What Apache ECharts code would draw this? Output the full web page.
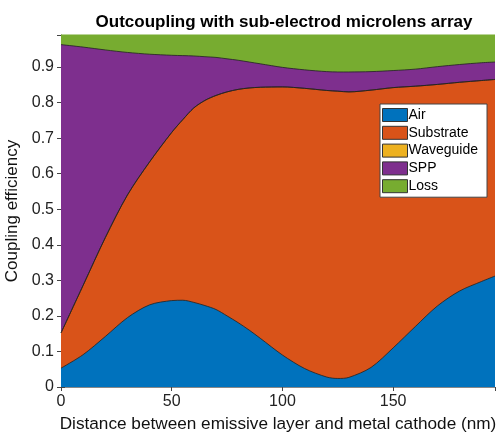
<!DOCTYPE html>
<html><head><meta charset="utf-8">
<script src="https://cdn.jsdelivr.net/npm/echarts@6/dist/echarts.min.js"></script>
<style>html,body{margin:0;padding:0;background:#fff}#c{width:504px;height:434px}</style>
</head><body><div id="c"></div>
<script>
const distance = [0,10,20,30,40,50,55,60,65,70,75,80,85,90,100,110,120,125,130,140,150,160,170,180,190,196];
const air       = [0.053,0.091,0.142,0.195,0.231,0.243,0.244,0.238,0.229,0.218,0.200,0.181,0.160,0.137,0.090,0.052,0.028,0.024,0.027,0.055,0.110,0.170,0.228,0.270,0.297,0.312];
const substrate = [0.099,0.195,0.278,0.345,0.402,0.473,0.508,0.547,0.577,0.602,0.630,0.656,0.681,0.706,0.754,0.788,0.806,0.808,0.803,0.780,0.732,0.676,0.623,0.587,0.565,0.553];
const waveguide = [0,0,0,0,0,0,0,0,0,0,0,0,0,0,0,0,0,0,0,0,0,0,0,0,0,0];
const spp       = [0.811,0.670,0.528,0.401,0.303,0.217,0.180,0.146,0.123,0.107,0.093,0.082,0.073,0.066,0.055,0.052,0.053,0.054,0.056,0.052,0.048,0.048,0.050,0.050,0.050,0.049];
const loss      = [0.037,0.044,0.052,0.059,0.064,0.067,0.068,0.069,0.071,0.073,0.077,0.081,0.086,0.091,0.101,0.108,0.113,0.114,0.114,0.113,0.110,0.106,0.099,0.093,0.088,0.086];
const names  = ['Air','Substrate','Waveguide','SPP','Loss'];
const colors = ['#0072BD','#D95319','#EDB120','#7E2F8E','#77AC30'];
const values = [air, substrate, waveguide, spp, loss];

// cumulative tops (stacked area)
const cum = [];
values.forEach((arr,i)=>{
  cum.push(arr.map((v,j)=> (i ? cum[i-1][j] : 0) + v));
});

const FONT = 'Liberation Sans, Arial, Helvetica, sans-serif';
const chart = echarts.init(document.getElementById('c'), null, {renderer:'canvas'});
// draw top layers first so lower layers paint over them
const series = names.map((n,i)=>({
  name:n, type:'line', smooth:0.3, symbol:'none', clip:true,
  data: distance.map((x,j)=>[x, +cum[i][j].toFixed(4)]),
  color: colors[i],
  lineStyle:{color:'#222', width:0.8},
  areaStyle:{color:colors[i], opacity:1, origin:'start'},
  itemStyle:{color:colors[i]}
})).reverse();
chart.setOption({
  animation:false,
  backgroundColor:'#fff',
  title:{text:'Outcoupling with sub-electrod microlens array', left:279, textAlign:'center', top:9,
    textStyle:{fontFamily:FONT, fontSize:17, fontWeight:'bold', color:'#000'}},
  legend:{
    orient:'vertical', left:380, top:104, icon:'rect', itemWidth:25, itemHeight:13, itemGap:3.8,
    backgroundColor:'#fff', borderColor:'#444', borderWidth:1, padding:[4,9,4,2], z:20,
    textStyle:{fontFamily:FONT, fontSize:14, color:'#000', lineHeight:13, padding:[0,0,0,-4]},
    data: names.map((n,i)=>({name:n, itemStyle:{color:colors[i], borderColor:'#333', borderWidth:1}}))
  },
  grid:{left:61, right:9, top:35, bottom:47, outerBoundsMode:'none', containLabel:false},
  xAxis:[{
    type:'value', min:0, max:196, interval:50,
    name:'Distance between emissive layer and metal cathode (nm)', nameLocation:'middle', nameGap:29,
    nameTextStyle:{fontFamily:FONT, fontSize:17.2, color:'#111'},
    axisLine:{show:true, lineStyle:{color:'#444', width:1}},
    axisTick:{inside:true, length:4, lineStyle:{color:'#444'}},
    axisLabel:{fontFamily:FONT, fontSize:16, color:'#222', margin:7, showMaxLabel:false},
    splitLine:{show:false}
  },{
    type:'value', position:'top', min:0, max:196, interval:50,
    axisLine:{show:true, lineStyle:{color:'#888', width:1}},
    axisTick:{inside:true, length:4, lineStyle:{color:'#444'}},
    axisLabel:{show:false}, splitLine:{show:false}
  }],
  yAxis:[{
    type:'value', min:0, max:0.99, interval:0.1,
    name:'Coupling efficiency', nameLocation:'middle', nameGap:34,
    nameTextStyle:{fontFamily:FONT, fontSize:17, color:'#111'},
    axisLine:{show:true, lineStyle:{color:'#888', width:1}},
    axisTick:{inside:true, length:4, lineStyle:{color:'#444'}},
    axisLabel:{fontFamily:FONT, fontSize:16, color:'#222', margin:7, showMaxLabel:false,
      formatter:v=>(Math.round(v*10)/10).toString()},
    splitLine:{show:false}
  },{
    type:'value', position:'right', min:0, max:0.99, interval:0.1,
    axisLine:{show:true, lineStyle:{color:'#888', width:1}},
    axisTick:{inside:true, length:4, lineStyle:{color:'#444'}},
    axisLabel:{show:false}, splitLine:{show:false}
  }],
  series: series
});
</script></body></html>
